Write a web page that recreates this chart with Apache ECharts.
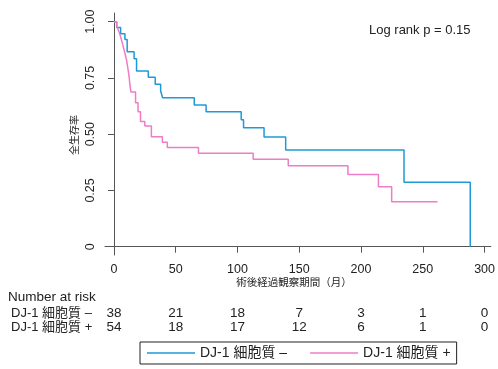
<!DOCTYPE html>
<html><head><meta charset="utf-8">
<script src="https://cdn.jsdelivr.net/npm/echarts@6/dist/echarts.min.js"></script>
<style>html,body{margin:0;padding:0;background:#fff}#c{width:498px;height:369px}</style>
</head><body><div id="c"></div>
<script>
const seriesNames = ['DJ-1 細胞質 –', 'DJ-1 細胞質 +'];
const timeNeg = [0, 2.2, 5.4, 8.9, 10.7, 16.3, 18.3, 27.8, 33.4, 37.8, 39.4, 65, 74.6, 103, 104.9, 121.5, 139, 234.8, 288.4];
const survNeg = [1.0, 0.974, 0.947, 0.921, 0.866, 0.835, 0.781, 0.753, 0.722, 0.692, 0.662, 0.63, 0.60, 0.564, 0.529, 0.488, 0.43, 0.286, 0];
const timePos = [0, 2.2, 3.5, 4.8, 6.2, 7.5, 8.9, 10.2, 11.5, 12.3, 12.9, 13.7, 17.5, 19.5, 21.5, 25, 30.3, 39.2, 43.2, 68.4, 112.7, 141.1, 189.4, 214.1, 224.8, 261.9];
const survPos = [1, 0.981, 0.963, 0.944, 0.917, 0.89, 0.86, 0.83, 0.785, 0.755, 0.72, 0.688, 0.64, 0.60, 0.556, 0.536, 0.489, 0.464, 0.441, 0.415, 0.389, 0.36, 0.321, 0.266, 0.2, 0.2];
const xTicks = [0, 50, 100, 150, 200, 250, 300];
const yTicks = [0, 0.25, 0.5, 0.75, 1];
const riskTimes = [0, 50, 100, 150, 200, 250, 300];
const riskNeg = [38, 21, 18, 7, 3, 1, 0];
const riskPos = [54, 18, 17, 12, 6, 1, 0];
const xName = '術後経過観察期間（月）';
const yName = '全生存率';
const pText = 'Log rank p = 0.15';
const riskTitle = 'Number at risk';

const FONT = "'Liberation Sans', Arial, 'Noto Sans CJK JP', sans-serif";
const colors = ['#1e9ad6', '#ee7cc6'];
const chart = echarts.init(document.getElementById('c'), null, {renderer: 'canvas'});

const zip = (a, b) => a.map((v, i) => [v, b[i]]);

chart.setOption({
  animation: false,
  backgroundColor: '#fff',
  textStyle: {fontFamily: FONT},
  grid: {left: 105, right: 5, top: 13, bottom: 114, containLabel: false},
  xAxis: {
    type: 'value', min: -7.24, max: 305.1,
    splitLine: {show: false},
    axisLine: {lineStyle: {color: '#555', width: 1}},
    axisTick: {customValues: xTicks, length: 6, lineStyle: {color: '#555'}},
    axisLabel: {customValues: xTicks, margin: 8, fontSize: 12.5, color: '#222', fontFamily: FONT}
  },
  yAxis: {
    type: 'value', min: -0.0369, max: 1.0387,
    splitLine: {show: false},
    axisLine: {show: true, lineStyle: {color: '#555', width: 1}},
    axisTick: {show: true, customValues: yTicks, length: 6, lineStyle: {color: '#555'}},
    axisLabel: {customValues: yTicks, rotate: 90, margin: 8, fontSize: 12.5, color: '#222', fontFamily: FONT,
      formatter: v => v === 0 ? '0' : v.toFixed(2)}
  },
  legend: {
    left: 140, top: 342,
    data: seriesNames,
    icon: 'rect', itemWidth: 48, itemHeight: 1.5, itemGap: 23, itemTextGap: 9,
    padding: [4, 6, 4, 7],
    borderColor: '#222', borderWidth: 1,
    textStyle: {fontSize: 14, color: '#222', fontFamily: FONT}
  },
  series: [
    {name: seriesNames[0], type: 'line', step: 'end', symbol: 'none', data: zip(timeNeg, survNeg),
      lineStyle: {color: colors[0], width: 1.5}, itemStyle: {color: colors[0]}},
    {name: seriesNames[1], type: 'line', step: 'end', symbol: 'none', data: zip(timePos, survPos),
      lineStyle: {color: colors[1], width: 1.5}, itemStyle: {color: colors[1]}}
  ]
});

const xpx = t => chart.convertToPixel({xAxisIndex: 0}, t);
const TS = 13.5;
const g = [];
g.push({type: 'text', left: 369, top: 24, style: {text: pText, fontSize: 13, fill: '#222', fontFamily: FONT}});
g.push({type: 'text', x: 75, y: 135, rotation: Math.PI / 2, style: {text: yName, fontSize: 10, fill: '#222', fontFamily: FONT, align: 'center', verticalAlign: 'middle'}});
g.push({type: 'text', x: 294, y: 283, style: {text: xName, fontSize: 10.5, fill: '#222', fontFamily: FONT, align: 'center', verticalAlign: 'middle'}});
g.push({type: 'text', x: 8, y: 297, style: {text: riskTitle, fontSize: TS, fill: '#222', fontFamily: FONT, align: 'left', verticalAlign: 'middle'}});
g.push({type: 'text', x: 11, y: 313, style: {text: seriesNames[0], fontSize: 13, fill: '#222', fontFamily: FONT, align: 'left', verticalAlign: 'middle'}});
g.push({type: 'text', x: 11, y: 327, style: {text: seriesNames[1], fontSize: 13, fill: '#222', fontFamily: FONT, align: 'left', verticalAlign: 'middle'}});
riskTimes.forEach((t, i) => {
  const x = xpx(t);
  g.push({type: 'text', x: x, y: 313, style: {text: String(riskNeg[i]), fontSize: TS, fill: '#222', fontFamily: FONT, align: 'center', verticalAlign: 'middle'}});
  g.push({type: 'text', x: x, y: 327, style: {text: String(riskPos[i]), fontSize: TS, fill: '#222', fontFamily: FONT, align: 'center', verticalAlign: 'middle'}});
});
chart.setOption({graphic: g});
</script></body></html>
